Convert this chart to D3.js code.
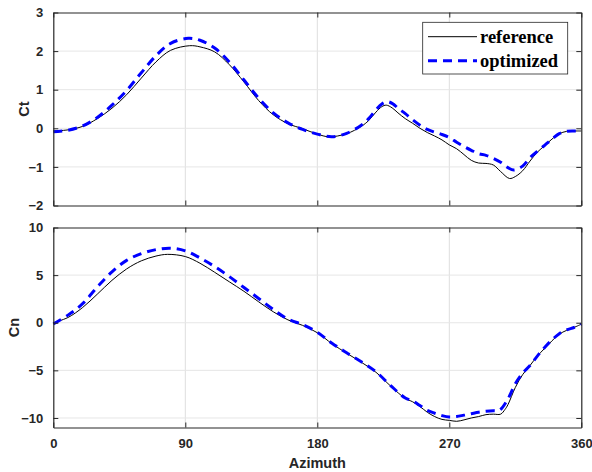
<!DOCTYPE html>
<html><head><meta charset="utf-8">
<script src="https://cdn.jsdelivr.net/npm/d3@7"></script>
<style>body{margin:0;background:#fff}svg{display:block}</style>
</head><body>
<svg id="c" width="592" height="472"></svg>
<script>
// ---- data ----
const xTicks = [0, 90, 180, 270, 360];
const ctTicks = [-2, -1, 0, 1, 2, 3];
const cnTicks = [-10, -5, 0, 5, 10];
const seriesNames = ["reference", "optimized"];

const ctRefAz = [0,10,20,30,40,50,60,70,80,93,100,110,120,130,140,150,160,170,180,188,200,210,215,220,224,227,231,235,240,245,250,255,260,265,270,275,280,285,290,295,300,305,311,315,320,325,330,335,340,345,350,355,360];
const ctRef   = [-0.07,-0.04,0.05,0.25,0.52,0.87,1.3,1.72,2.02,2.14,2.11,1.98,1.65,1.2,0.72,0.35,0.12,-0.01,-0.15,-0.22,-0.14,0.05,0.2,0.42,0.56,0.6,0.53,0.4,0.25,0.13,0.0,-0.11,-0.2,-0.3,-0.43,-0.53,-0.68,-0.83,-0.9,-0.91,-0.95,-1.12,-1.3,-1.25,-1.1,-0.85,-0.62,-0.45,-0.28,-0.14,-0.08,-0.07,-0.07];

const ctOptAz = [0,10,20,30,40,50,60,70,80,92,100,110,120,130,140,150,160,170,180,190,200,210,215,220,224,228,232,235,240,245,250,255,260,265,270,275,280,285,290,295,300,305,310,314,320,325,330,335,340,345,350,355,360];
const ctOpt   = [-0.09,-0.05,0.06,0.28,0.6,0.98,1.44,1.88,2.2,2.33,2.28,2.08,1.72,1.25,0.78,0.4,0.14,-0.03,-0.15,-0.22,-0.13,0.08,0.25,0.48,0.63,0.69,0.62,0.52,0.38,0.22,0.08,-0.03,-0.1,-0.16,-0.24,-0.36,-0.47,-0.57,-0.66,-0.7,-0.78,-0.88,-1.02,-1.08,-0.98,-0.76,-0.6,-0.44,-0.28,-0.14,-0.08,-0.07,-0.07];

const cnRefAz = [0,10,20,30,40,50,60,70,78,90,100,110,120,130,140,150,160,170,180,190,200,210,220,230,240,245,250,255,260,265,270,275,280,285,290,295,300,305,308,310,315,320,325,330,335,340,345,350,355,360];
const cnRef   = [0,0.55,1.6,3.0,4.45,5.65,6.5,7.0,7.18,6.95,6.25,5.3,4.3,3.3,2.2,1.15,0.3,-0.28,-1.05,-2.2,-3.2,-4.15,-5.2,-6.65,-7.95,-8.3,-8.8,-9.4,-9.85,-10.15,-10.25,-10.35,-10.2,-10.0,-9.85,-9.65,-9.6,-9.6,-9.1,-8.6,-6.8,-5.45,-4.5,-3.5,-2.7,-1.9,-1.2,-0.8,-0.5,-0.15];

const cnOptAz = [0,10,20,30,40,50,60,70,80,90,100,110,120,130,140,150,160,170,180,190,200,210,220,230,240,245,250,255,260,265,270,275,280,285,290,295,300,303,305,310,315,320,325,330,335,340,345,350,355,360];
const cnOpt   = [-0.14,0.8,2.0,3.75,5.35,6.55,7.25,7.68,7.83,7.55,6.8,5.9,4.85,3.7,2.55,1.4,0.38,-0.2,-1.0,-2.15,-3.15,-4.1,-5.15,-6.6,-7.9,-8.2,-8.7,-9.2,-9.5,-9.75,-9.9,-9.85,-9.7,-9.55,-9.4,-9.3,-9.25,-9.25,-9.1,-8.0,-6.4,-5.3,-4.5,-3.5,-2.6,-1.8,-1.15,-0.75,-0.5,-0.15];

// ---- layout ----
const svg = d3.select("#c");
const L = 53.3, R = 581.3;
const x = d3.scaleLinear().domain([0,360]).range([L,R]);
const panels = [
  {label:"Ct", dom:[-2,3], rng:[205.5,12.5], ticks:ctTicks, ref:[ctRefAz,ctRef], opt:[ctOptAz,ctOpt], xlabels:false, lx:24},
  {label:"Cn", dom:[-11,10], rng:[427.5,227.5], ticks:cnTicks, ref:[cnRefAz,cnRef], opt:[cnOptAz,cnOpt], xlabels:true, lx:14}
];
const axisColor = "#262626";
const font = "'Liberation Sans', Arial, sans-serif";

panels.forEach((p,i) => {
  const y = d3.scaleLinear().domain(p.dom).range(p.rng);
  const g = svg.append("g");
  const top = p.rng[1], bot = p.rng[0];
  // grid
  g.append("g").selectAll("line").data(xTicks.slice(1,-1)).join("line")
    .attr("x1", d=>x(d)).attr("x2", d=>x(d)).attr("y1", top).attr("y2", bot)
    .attr("stroke", "#dedede").attr("stroke-width", 1);
  g.append("g").selectAll("line").data(p.ticks.filter(t => y(t) > top+1 && y(t) < bot-1)).join("line")
    .attr("x1", L).attr("x2", R).attr("y1", d=>y(d)).attr("y2", d=>y(d))
    .attr("stroke", "#e6e6e6").attr("stroke-width", 1);

  // lines
  const line = d3.line().x(d=>x(d[0])).y(d=>y(d[1])).curve(d3.curveCatmullRom.alpha(0.5));
  const refData = d3.zip(p.ref[0], p.ref[1]);
  const optData = d3.zip(p.opt[0], p.opt[1]);
  g.append("path").datum(refData).attr("d", line).attr("fill","none")
    .attr("stroke","#000").attr("stroke-width",1);
  g.append("path").datum(optData).attr("d", line).attr("fill","none")
    .attr("stroke","#0000ff").attr("stroke-width",3).attr("stroke-dasharray","9,6");

  // axes (ticks inside)
  const ax = (axis, tr) => g.append("g").attr("transform", tr).call(axis)
    .call(s => { s.select(".domain").attr("stroke", axisColor).attr("stroke-width",1.2);
                 s.selectAll(".tick line").attr("stroke", axisColor);
                 s.selectAll("text").attr("fill", axisColor).style("font-family", font)
                   .style("font-weight","bold").style("font-size","13px"); });
  ax(d3.axisBottom(x).tickValues(xTicks).tickSizeInner(-5).tickSizeOuter(0)
      .tickPadding(11).tickFormat(p.xlabels ? d3.format("d") : ""), `translate(0,${bot})`);
  ax(d3.axisTop(x).tickValues(xTicks).tickSizeInner(-5).tickSizeOuter(0).tickFormat(""), `translate(0,${top})`);
  ax(d3.axisLeft(y).tickValues(p.ticks).tickSizeInner(-5).tickSizeOuter(0).tickPadding(10)
      .tickFormat(d3.format("d")), `translate(${L},0)`);
  ax(d3.axisRight(y).tickValues(p.ticks).tickSizeInner(-5).tickSizeOuter(0).tickFormat(""), `translate(${R},0)`);

  // y label
  svg.append("text").attr("transform", `translate(${p.lx},${(top+bot)/2}) rotate(-90)`)
    .attr("text-anchor","middle").attr("dy","0.35em")
    .style("font-family", font).style("font-weight","bold").style("font-size","14.5px")
    .attr("fill", axisColor).text(p.label);
});

svg.append("text").attr("x", x(180)).attr("y", 468).attr("text-anchor","middle")
  .style("font-family", font).style("font-weight","bold").style("font-size","14.5px")
  .attr("fill", axisColor).text("Azimuth");

// legend
const lg = svg.append("g");
lg.append("rect").attr("x",422.7).attr("y",22.3).attr("width",145).attr("height",51.7)
  .attr("fill","#fff").attr("stroke",axisColor).attr("stroke-width",0.8);
const styles = [{c:"#000", w:1, da:null},{c:"#0000ff", w:3, da:"9,6"}];
seriesNames.forEach((n,i) => {
  const yy = 36.7 + i*24;
  lg.append("line").attr("x1",428).attr("x2",477).attr("y1",yy).attr("y2",yy)
    .attr("stroke",styles[i].c).attr("stroke-width",styles[i].w)
    .attr("stroke-dasharray",styles[i].da);
  lg.append("text").attr("x",480).attr("y",yy).attr("dy","0.32em")
    .style("font-family","'Liberation Serif', 'Times New Roman', serif").style("font-weight","bold")
    .style("font-size","18.5px").attr("fill","#000").text(n);
});
</script>
</body></html>
